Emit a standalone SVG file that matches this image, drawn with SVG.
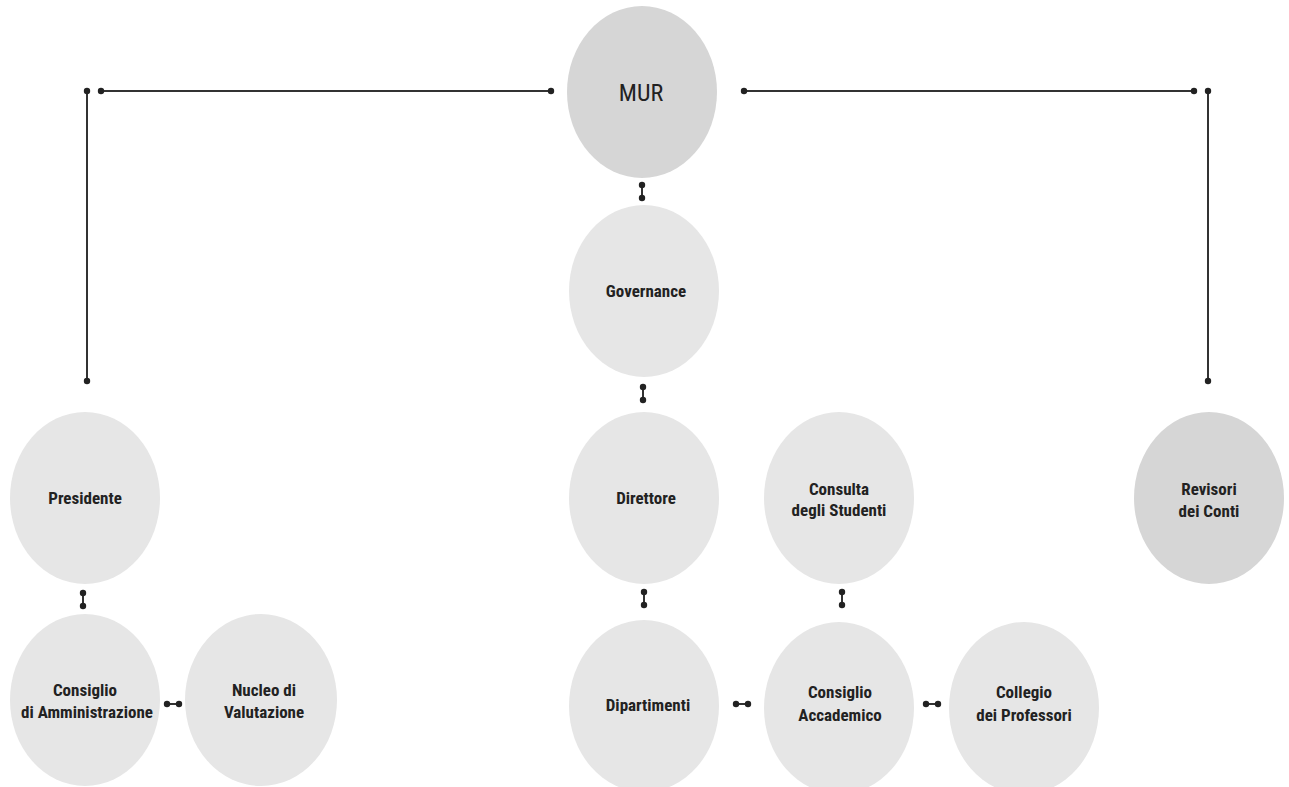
<svg xmlns="http://www.w3.org/2000/svg" width="1289" height="787" viewBox="0 0 1289 787">
<style>
.n{fill:#e6e6e6}
.d{fill:#d6d6d6}
.t{font-family:"Liberation Sans Narrow","Roboto Condensed","Liberation Sans",sans-serif;font-weight:bold;font-size:17px;fill:#222;text-anchor:middle}
.big{font-size:24px;font-weight:normal}
.c{stroke:#333;stroke-width:2;fill:none;marker-start:url(#dot);marker-end:url(#dot)}
</style>
<defs>
<marker id="dot" markerUnits="userSpaceOnUse" markerWidth="8" markerHeight="8" refX="4" refY="4" viewBox="0 0 8 8"><circle cx="4" cy="4" r="3.2" fill="#222"/></marker>
</defs>
<rect width="1289" height="787" fill="#fff"/>
<g id="connectors">
<line class="c" x1="87" y1="91" x2="87" y2="381"/>
<line class="c" x1="101" y1="91" x2="551" y2="91"/>
<line class="c" x1="744" y1="91" x2="1194" y2="91"/>
<line class="c" x1="1208" y1="91" x2="1208" y2="381"/>
<line class="c" x1="642" y1="185" x2="642" y2="198"/>
<line class="c" x1="643" y1="387" x2="643" y2="400"/>
<line class="c" x1="644" y1="592" x2="644" y2="605"/>
<line class="c" x1="842" y1="592" x2="842" y2="605"/>
<line class="c" x1="83" y1="593" x2="83" y2="606"/>
<line class="c" x1="167" y1="704" x2="179" y2="704"/>
<line class="c" x1="736" y1="704" x2="748" y2="704"/>
<line class="c" x1="926" y1="704" x2="938" y2="704"/>
</g>
<g id="mur"><ellipse class="d" cx="642" cy="92" rx="75" ry="86"/><text class="t big" x="641" y="101">MUR</text></g>
<g id="governance"><ellipse class="n" cx="644" cy="291" rx="75" ry="86"/><text class="t" x="646" y="297">Governance</text></g>
<g id="presidente"><ellipse class="n" cx="85" cy="498" rx="75" ry="86"/><text class="t" x="85" y="504">Presidente</text></g>
<g id="direttore"><ellipse class="n" cx="644" cy="498" rx="75" ry="86"/><text class="t" x="646" y="504">Direttore</text></g>
<g id="consulta"><ellipse class="n" cx="839" cy="498" rx="75" ry="86"/><text class="t" x="839" y="495">Consulta</text><text class="t" x="839" y="516">degli Studenti</text></g>
<g id="revisori"><ellipse class="d" cx="1209" cy="498" rx="75" ry="86"/><text class="t" x="1209" y="495">Revisori</text><text class="t" x="1209" y="517">dei Conti</text></g>
<g id="consiglio-amm"><ellipse class="n" cx="85" cy="700" rx="75" ry="86"/><text class="t" x="85" y="696">Consiglio</text><text class="t" x="87" y="718">di Amministrazione</text></g>
<g id="nucleo"><ellipse class="n" cx="261" cy="700" rx="76" ry="86"/><text class="t" x="264" y="696">Nucleo di</text><text class="t" x="264" y="718">Valutazione</text></g>
<g id="dipartimenti"><ellipse class="n" cx="644" cy="706" rx="75" ry="86"/><text class="t" x="648" y="711">Dipartimenti</text></g>
<g id="consiglio-acc"><ellipse class="n" cx="839" cy="708" rx="75" ry="86"/><text class="t" x="840" y="698">Consiglio</text><text class="t" x="840" y="721">Accademico</text></g>
<g id="collegio"><ellipse class="n" cx="1024" cy="708" rx="75" ry="86"/><text class="t" x="1024" y="698">Collegio</text><text class="t" x="1024" y="721">dei Professori</text></g>
</svg>
